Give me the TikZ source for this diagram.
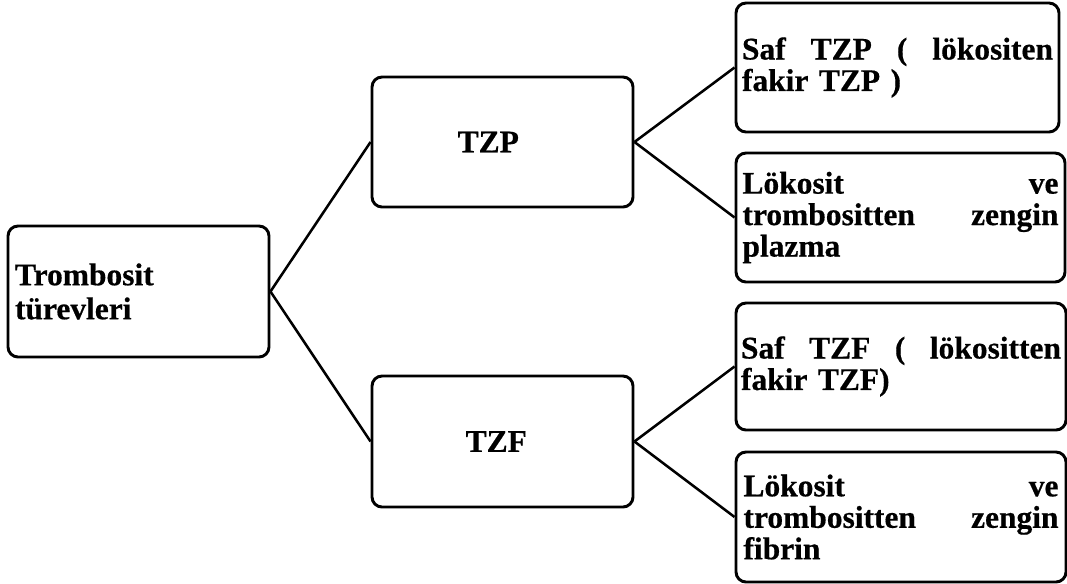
\documentclass[tikz,border=0pt]{standalone}
\usepackage{fontspec}
\setmainfont{Liberation Serif}[BoldFeatures={FakeBold=0.5}]
\begin{document}
\begin{tikzpicture}[x=0.75pt,y=-0.75pt,
  box/.style={draw, line width=2.2pt, rounded corners=7.5pt, inner sep=0pt,
    font=\bfseries\fontsize{23.6pt}{23.6pt}\selectfont},
  link/.style={line width=1.9pt}]
\useasboundingbox (0,0) rectangle (1067,583);

\node[box, minimum width=195.75pt, minimum height=98.25pt, text width=185.25pt, align=left,
  font=\bfseries\fontsize{23.6pt}{25.5pt}\selectfont]
  (root) at (138.5,291.5) {Trombosit\\türevleri};

\node[box, minimum width=195.75pt, minimum height=97.5pt, align=center]
  (tzp) at (502.5,142) {TZP\kern21.3pt};
\node[box, minimum width=195.75pt, minimum height=98.25pt, align=center]
  (tzf) at (502.5,441.5) {TZF\kern9.3pt};

\node[box, minimum width=242.25pt, minimum height=96.75pt, text width=233.25pt, align=left]
  (a) at (897.5,67.5) {Saf\hfill TZP\hfill (\hfill lökositen\\fakir TZP )};
\node[box, minimum width=246.75pt, minimum height=96.75pt, text width=237pt, align=left]
  (b) at (900.5,217.5) {Lökosit\hfill ve\\trombositten\hfill zengin\\plazma};
\node[box, minimum width=247.5pt, minimum height=95.25pt, text width=240pt, align=left]
  (c) at (901,366.5) {Saf\hfill TZF\hfill (\hfill lökositten\\fakir TZF)};
\node[box, minimum width=247.5pt, minimum height=97.5pt, text width=236.25pt, align=left]
  (d) at (901,517) {Lökosit\hfill ve\\trombositten\hfill zengin\\fibrin};

\draw[link] (root.east) -- (tzp.west);
\draw[link] (root.east) -- (tzf.west);
\draw[link] (tzp.east) -- (a.west);
\draw[link] (tzp.east) -- (b.west);
\draw[link] (tzf.east) -- (c.west);
\draw[link] (tzf.east) -- (d.west);
\end{tikzpicture}
\end{document}
